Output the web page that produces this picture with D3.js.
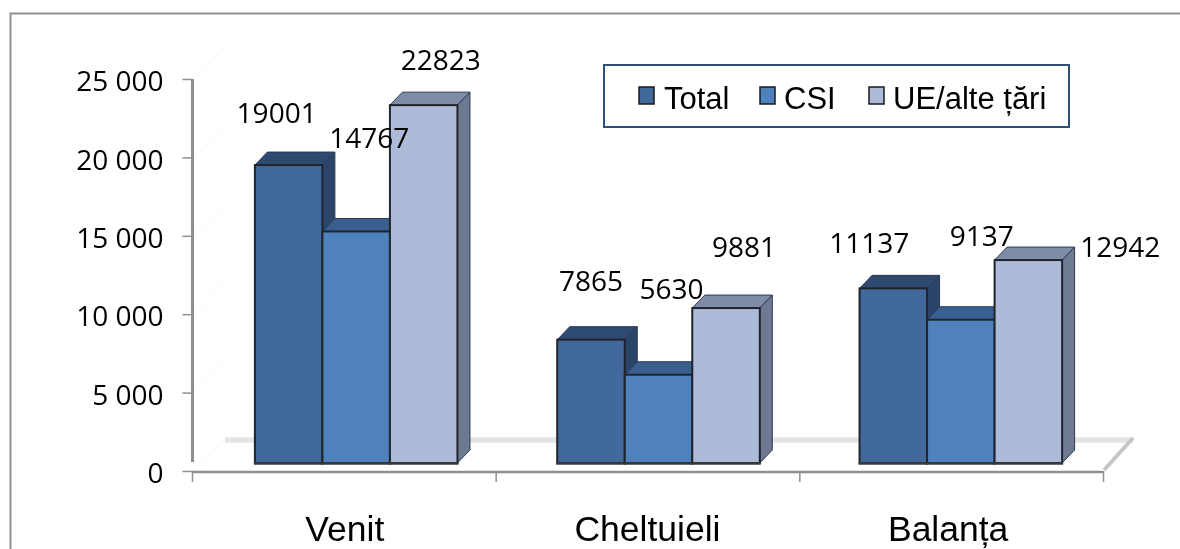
<!DOCTYPE html>
<html><head><meta charset="utf-8">
<script src="https://cdn.jsdelivr.net/npm/d3@7/dist/d3.min.js"></script>
<style>html,body{margin:0;padding:0;background:#fff}svg{display:block;filter:blur(0.45px)}</style>
</head><body><svg id="c" width="1180" height="549"></svg>
<script>
const categories = ["Venit","Cheltuieli","Balanța"];
const seriesNames = ["Total","CSI","UE/alte țări"];
const total = [19001,7865,11137];
const csi = [14767,5630,9137];
const ue = [22823,9881,12942];
const yTicks = [0,5000,10000,15000,20000,25000];
const tickLabels = ["0","5 000","10 000","15 000","20 000","25 000"];
const front = ["#41699c","#4f81bd","#adbbd8"];
const topC = ["#2e4a70","#395f8e","#7f8ca8"];
const side = ["#2a4568","#2a4568","#6d7a92"];
// data-label offsets from the top centre of each bar
const labelDx = [[-12,0,-24],[13,13,21],[17,18,92]];
const labelDy = [[-42,-49,-35],[-83,-76,-74],[-35,-51,-3]];
const catShift = [1,0,-3];

const svg = d3.select("#c");
const bodyFont = "'Open Sans','Noto Sans',sans-serif";
const catFont = "'Liberation Sans',Arial,sans-serif";
const depthX = 12.5, depthY = 13, baseShift = 8;

svg.append("path").attr("d","M10.5 549V13.5H1180").attr("fill","none").attr("stroke","#8f8f8f").attr("stroke-width",2);

const y = d3.scaleLinear().domain([0,25000]).range([471,79]);
const xAxisScale = d3.scaleBand().domain(categories).range([192,1103]).paddingInner(0).paddingOuter(0);
const x0 = d3.scaleBand().domain(categories).range([194,1101]).paddingInner(0.33).paddingOuter(0.165);
const x1 = d3.scaleBand().domain(seriesNames).range([0,x0.bandwidth()]);
const groupShift = 11;

// wall grid stubs
svg.append("g").selectAll("line").data(yTicks).join("line")
 .attr("x1",194).attr("x2",224).attr("y1",d=>y(d)).attr("y2",d=>y(d)-32)
 .attr("stroke","#f6f6f6").attr("stroke-width",1.5).attr("stroke-dasharray","2 2");

// floor
svg.append("path").attr("d","M225 440H1133").attr("stroke","#e4e4e4").attr("stroke-width",5.5).attr("fill","none");
svg.append("path").attr("d","M1104 470L1133 438").attr("stroke","#c6c6c6").attr("stroke-width",4).attr("fill","none");

// axes
const yAxis = d3.axisLeft(y).tickValues(yTicks).tickSize(10).tickSizeOuter(0).tickPadding(19).tickFormat((d,i)=>tickLabels[i]);
const gy = svg.append("g").attr("transform","translate(192.5,0)").call(yAxis);
gy.select(".domain").remove();
gy.selectAll(".tick line").attr("stroke","#8f8f8f").attr("stroke-width",1.5);
gy.selectAll("text").attr("font-family",bodyFont).attr("font-size",28).attr("fill","#000").attr("dy","0.42em");
svg.append("line").attr("x1",192.5).attr("x2",192.5).attr("y1",y(25000)).attr("y2",y(0)-9).attr("stroke","#8f8f8f").attr("stroke-width",3);

svg.append("line").attr("x1",192).attr("x2",1103).attr("y1",472).attr("y2",472).attr("stroke","#8f8f8f").attr("stroke-width",2.5);
const xTicks = categories.map(c=>xAxisScale(c)).concat(xAxisScale.range()[1]);
svg.append("g").selectAll("line").data(xTicks).join("line")
 .attr("x1",d=>d+.5).attr("x2",d=>d+.5).attr("y1",471).attr("y2",482).attr("stroke","#8f8f8f").attr("stroke-width",1.5);

// bars
const rows = [total,csi,ue];
rows.forEach((vals,s)=>{
 vals.forEach((v,c)=>{
  const xl = x0(categories[c]) + x1(seriesNames[s]) + groupShift;
  const w = x1.bandwidth();
  const yb = y(0)-baseShift, yt = y(v)-baseShift;
  const g = svg.append("g");
  g.append("path").attr("d",`M${xl} ${yt}l${depthX} ${-depthY}h${w}l${-depthX} ${depthY}Z`)
   .attr("fill",topC[s]).attr("stroke","#2b3a50").attr("stroke-width",1);
  g.append("path").attr("d",`M${xl+w} ${yt}l${depthX} ${-depthY}V${yb-depthY}l${-depthX} ${depthY}Z`)
   .attr("fill",side[s]).attr("stroke","#2b3a50").attr("stroke-width",1);
  g.append("rect").attr("x",xl).attr("y",yt).attr("width",w).attr("height",yb-yt)
   .attr("fill",front[s]).attr("stroke","#20242c").attr("stroke-width",2);
  g.append("line").attr("x1",xl-1).attr("x2",xl+w+1).attr("y1",yb+.5).attr("y2",yb+.5)
   .attr("stroke","#3a3a3a").attr("stroke-width",2.5);
 });
});
svg.append("g").selectAll("text").data(categories).join("text")
 .attr("x",(d,i)=>xAxisScale(d)+xAxisScale.bandwidth()/2+catShift[i])
 .attr("y",541).attr("text-anchor","middle").attr("font-family",catFont).attr("font-size",35.5).attr("fill","#000").text(d=>d);

// data labels
rows.forEach((vals,s)=>vals.forEach((v,c)=>{
 const xl = x0(categories[c]) + x1(seriesNames[s]) + groupShift;
 svg.append("text").attr("x",xl+x1.bandwidth()/2+labelDx[s][c]).attr("y",y(v)-baseShift+labelDy[s][c])
  .attr("text-anchor","middle").attr("font-family",bodyFont).attr("font-size",28).attr("fill","#000").text(v);
}));

// legend
svg.append("rect").attr("x",604).attr("y",65).attr("width",465).attr("height",62).attr("fill","#fff").attr("stroke","#2f4f78").attr("stroke-width",2);
const lx = [639,760,869], tx = [664,784,893];
seriesNames.forEach((n,i)=>{
 svg.append("rect").attr("x",lx[i]).attr("y",87).attr("width",15).attr("height",17).attr("fill",front[i]).attr("stroke","#1a1a1a").attr("stroke-width",1.5);
 svg.append("text").attr("x",tx[i]).attr("y",109).attr("font-family",catFont).attr("font-size",31).attr("fill","#000").text(n);
});
</script></body></html>
